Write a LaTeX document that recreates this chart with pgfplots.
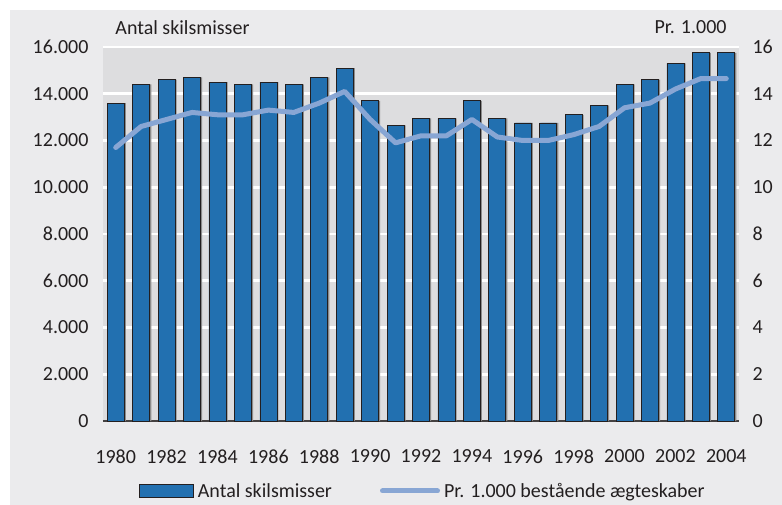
\documentclass[border=0pt]{standalone}
\usepackage{pgfplots}
\pgfplotsset{compat=1.18}
\usepackage{fontspec}
\setmainfont{Carlito}
\definecolor{panelgray}{RGB}{235,235,237}
\definecolor{plotgray}{RGB}{221,221,223}
\definecolor{barblue}{RGB}{34,112,176}
\definecolor{lineblue}{RGB}{136,166,212}
\definecolor{txt}{RGB}{35,31,32}
\definecolor{gridwhite}{RGB}{255,255,255}
\begin{document}
\begin{tikzpicture}[x=1pt,y=1pt]
\useasboundingbox (0,0) rectangle (782,505);
\fill[white] (0,0) rectangle (782,505);
\fill[panelgray] (10,0) rectangle (782,495);
\fill[plotgray] (103,84) rectangle (739,458);
\foreach \yy in {130.75,177.5,224.25,271,317.75,364.5,411.25,458} {
  \fill[gridwhite] (103,\yy-1.3) rectangle (739,\yy+1.3);
}
\begin{axis}[
  at={(103pt,84pt)}, anchor=south west,
  width=636pt, height=374pt, scale only axis,
  xmin=1979.5, xmax=2004.5,
  ymin=0, ymax=16000,
  scaled y ticks=false,
  axis x line*=bottom, axis y line*=left,
  x axis line style={-, draw=txt!85, line width=1.2pt},
  y axis line style={-, draw=none},
  xtick={1980,1982,...,2004},
  xticklabels={1980,1982,1984,1986,1988,1990,1992,1994,1996,1998,2000,2002,2004},
  ytick={0,2000,4000,6000,8000,10000,12000,14000,16000},
  yticklabels={0,2.000,4.000,6.000,8.000,10.000,12.000,14.000,16.000},
  major tick length=0pt,
  tick label style={font=\fontsize{20}{24}\selectfont, text=txt},
  xticklabel style={yshift=-25pt},
  yticklabel style={xshift=-11pt},
  clip=false,
]
\addplot[ybar, bar width=17pt, bar shift=1.6pt, fill=black!45, draw=none] coordinates {
(1980,13600)(1981,14400)(1982,14600)(1983,14700)(1984,14500)(1985,14400)(1986,14500)(1987,14400)(1988,14700)(1989,15100)(1990,13700)(1991,12650)(1992,12950)(1993,12950)(1994,13700)(1995,12950)(1996,12750)(1997,12750)(1998,13100)(1999,13500)(2000,14400)(2001,14600)(2002,15300)(2003,15750)(2004,15750)};
\addplot[ybar, bar width=17pt, fill=barblue, draw=txt, line width=0.7pt] coordinates {
(1980,13600)(1981,14400)(1982,14600)(1983,14700)(1984,14500)(1985,14400)(1986,14500)(1987,14400)(1988,14700)(1989,15100)(1990,13700)(1991,12650)(1992,12950)(1993,12950)(1994,13700)(1995,12950)(1996,12750)(1997,12750)(1998,13100)(1999,13500)(2000,14400)(2001,14600)(2002,15300)(2003,15750)(2004,15750)};
\node[anchor=west, font=\fontsize{20}{24}\selectfont, text=txt] at (rel axis cs:0.014,1.053) {Antal skilsmisser};
\end{axis}
\begin{axis}[
  at={(103pt,84pt)}, anchor=south west,
  width=636pt, height=374pt, scale only axis,
  xmin=1979.5, xmax=2004.5,
  ymin=0, ymax=16,
  axis x line=none, axis y line*=right,
  y axis line style={-, draw=none},
  ytick={0,2,...,16},
  yticklabels={0,2,4,6,8,10,12,14,16},
  major tick length=0pt,
  tick label style={font=\fontsize{20}{24}\selectfont, text=txt},
  yticklabel style={xshift=10pt},
  clip=false,
  legend columns=2,
  legend style={draw=none, fill=none, at={(rel axis cs:0.503,-0.187)}, anchor=center,
    font=\fontsize{20}{24}\selectfont, text=txt,
    /tikz/every odd column/.append style={column sep=2pt},
    /tikz/every even column/.append style={column sep=46pt}},
]
\addlegendimage{legend image code/.code={\draw[fill=barblue, draw=txt, line width=0.7pt] (0pt,-6.5pt) rectangle (54pt,6.5pt);}}
\addlegendentry{Antal skilsmisser}
\addplot[lineblue, line width=5pt, line join=round, line cap=round,
  legend image code/.code={\draw[lineblue, line width=5pt, line cap=round] (0pt,0pt) -- (55pt,0pt);}] coordinates {
(1980,11.7)(1981,12.6)(1982,12.9)(1983,13.2)(1984,13.1)(1985,13.1)(1986,13.3)(1987,13.2)(1988,13.6)(1989,14.1)(1990,12.9)(1991,11.9)(1992,12.2)(1993,12.2)(1994,12.9)(1995,12.15)(1996,12.0)(1997,12.0)(1998,12.25)(1999,12.6)(2000,13.4)(2001,13.6)(2002,14.2)(2003,14.65)(2004,14.65)};
\addlegendentry{Pr. 1.000 bestående ægteskaber}
\node[anchor=east, font=\fontsize{20}{24}\selectfont, text=txt] at (rel axis cs:0.986,1.053) {Pr. 1.000};
\end{axis}
\end{tikzpicture}
\end{document}
